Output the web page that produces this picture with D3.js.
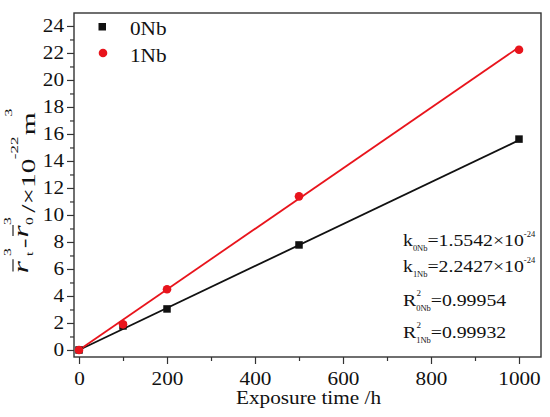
<!DOCTYPE html>
<html>
<head>
<meta charset="utf-8">
<script src="https://cdn.jsdelivr.net/npm/d3@7"></script>
<style>
  body { margin: 0; background: #fff; }
</style>
</head>
<body>
<svg id="chart"></svg>
<script>
const width = 550, height = 417

// exposure time (h)
const hours = [0, 100, 200, 500, 1000]
// r_t^3 - r_0^3 (x10^-22 m^3)
const nb0 = [0, 1.78, 3.04, 7.78, 15.62]
const nb1 = [0, 1.9, 4.5, 11.38, 22.24]
// linear fit ends (0 h and 1000 h)
const fitHours = [0, 1000]
const fit0 = [0, 15.54]
const fit1 = [0, 22.43]

const xTicks = [0, 200, 400, 600, 800, 1000]
const yTicks = [0, 2, 4, 6, 8, 10, 12, 14, 16, 18, 20, 22, 24]

const red = "#e8141c"
const serif = '"Liberation Serif"'
const sx = 1.18   // the source figure is stretched sideways

const svg = d3.select("svg#chart")
    .attr("width", width)
    .attr("height", height)
    .attr("viewBox", [0, 0, width, height])

const plotLeft = 74, plotRight = 541, plotTop = 13, plotBottom = 357

const x = d3.scaleLinear().domain([-11.4, 1050]).range([plotLeft, plotRight])
const y = d3.scaleLinear().domain([-0.52, 24.96]).range([plotBottom, plotTop])

// minor ticks
const xMinor = d3.range(100, 1001, 200)
const yMinor = d3.range(1, 25, 2)

svg.append("g")
    .attr("transform", `translate(0,${plotBottom})`)
    .call(d3.axisBottom(x).tickValues(xMinor).tickSize(4).tickFormat(""))
    .call(g => g.select(".domain").remove())
svg.append("g")
    .attr("transform", `translate(${plotLeft},0)`)
    .call(d3.axisLeft(y).tickValues(yMinor).tickSize(4).tickFormat(""))
    .call(g => g.select(".domain").remove())

const xAxis = svg.append("g")
    .attr("transform", `translate(0,${plotBottom})`)
    .call(d3.axisBottom(x).tickValues(xTicks).tickSize(7).tickPadding(8).tickFormat(d3.format("d")))
xAxis.select(".domain").remove()
xAxis.selectAll("text").attr("font-size", 18).attr("transform", `scale(${sx},1)`)

const yAxis = svg.append("g")
    .attr("transform", `translate(${plotLeft},0)`)
    .call(d3.axisLeft(y).tickValues(yTicks).tickSize(7).tickPadding(3))
yAxis.select(".domain").remove()
yAxis.selectAll("text").attr("font-size", 18)
    .attr("x", -10 / sx).attr("transform", `scale(${sx},1)`)

svg.selectAll(".tick line").attr("stroke", "#333").attr("stroke-width", 1.2)

// frame
svg.append("rect")
    .attr("x", plotLeft).attr("y", plotTop)
    .attr("width", plotRight - plotLeft).attr("height", plotBottom - plotTop)
    .attr("fill", "none").attr("stroke", "#333").attr("stroke-width", 1.4)

// fit lines
const line = d3.line().x((d, i) => x(fitHours[i])).y(d => y(d))
svg.append("path").attr("d", line(fit0)).attr("fill", "none").attr("stroke", "#111").attr("stroke-width", 1.8)
svg.append("path").attr("d", line(fit1)).attr("fill", "none").attr("stroke", red).attr("stroke-width", 1.8)

// markers
svg.append("g").selectAll("rect")
    .data(nb0)
    .enter()
    .append("rect")
    .attr("x", (d, i) => x(hours[i]) - 3.75)
    .attr("y", d => y(d) - 3.75)
    .attr("width", 7.5).attr("height", 7.5)
    .attr("fill", "#111")

svg.append("g").selectAll("circle")
    .data(nb1)
    .enter()
    .append("circle")
    .attr("cx", (d, i) => x(hours[i]))
    .attr("cy", d => y(d))
    .attr("r", 4.3)
    .attr("fill", red)

// stretched text group
const label = (px, py, s = sx) => svg.append("g").attr("transform", `translate(${px},${py}) scale(${s},1)`)

// legend
svg.append("rect").attr("x", 98.5).attr("y", 23).attr("width", 7.5).attr("height", 7.5).attr("fill", "#111")
label(130, 35).append("text").attr("font-size", 18).text("0Nb")
svg.append("circle").attr("cx", 103).attr("cy", 53).attr("r", 4.3).attr("fill", red)
label(130, 62).append("text").attr("font-size", 18).text("1Nb")

// x title
label((plotLeft + plotRight) / 2 + 1, 404).append("text")
    .attr("text-anchor", "middle").attr("font-size", 18)
    .text("Exposure time /h")

// y title (stretched along its length)
const yt = svg.append("g").attr("transform", "translate(35,191) rotate(-90) scale(1.55,1)")
const piece = (tx, ty, s, size, italic) => yt.append("text")
    .attr("x", tx).attr("y", ty).attr("font-size", size)
    .attr("font-style", italic ? "italic" : null).text(s)
const bar = (x1, x2) => yt.append("line")
    .attr("x1", x1).attr("x2", x2).attr("y1", -22).attr("y2", -22)
    .attr("stroke", "#111").attr("stroke-width", 1.1)
piece(-53, -7, "r", 20, true)
bar(-52, -44)
piece(-42, -2, "t", 10, false)
piece(-42, -24, "3", 10, false)
piece(-37, -5, "-", 19, false)
piece(-30, -7, "r", 20, true)
bar(-29, -22)
piece(-22, -2, "0", 10, false)
piece(-22, -24, "3", 10, false)
piece(-14, 0, "/\u00d710", 19, false)
piece(20.5, -17, "-22", 11, false)
piece(36, 0, "m", 19, false)
piece(48, -23, "3", 10, false)

// fit statistics
const note = (ty, main, sub, val, sup, sup2) => {
    const g = label(403, ty, 1.13)
    const t = g.append("text").attr("font-size", 17.5)
    t.append("tspan").text(main)
    if (sup2) g.append("text").attr("x", 12).attr("y", -10).attr("font-size", 8).text(sup2)
    t.append("tspan").attr("font-size", 7.5).attr("dy", 5).text(sub)
    t.append("tspan").attr("dy", -5).text(val)
    if (sup) t.append("tspan").attr("font-size", 7.5).attr("dy", -9).text(sup)
}
note(246, "k", "0Nb", "=1.5542\u00d710", "-24")
note(272, "k", "1Nb", "=2.2427\u00d710", "-24")
note(306, "R", "0Nb", "=0.99954", null, "2")
note(338, "R", "1Nb", "=0.99932", null, "2")

svg.selectAll("text")
    .style("font-family", serif)
    .style("fill", "#111")
</script>
</body>
</html>
